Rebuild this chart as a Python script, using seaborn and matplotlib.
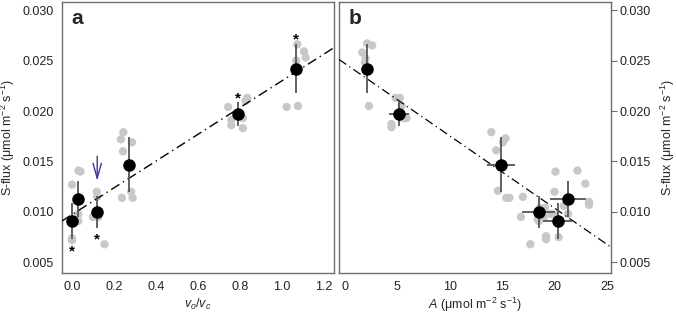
import numpy as np
import pandas as pd
import matplotlib
matplotlib.use("Agg")
import matplotlib.pyplot as plt
import seaborn as sns

# ---------------- data ----------------
# panel a raw points (vo/vc, S-flux)
a_raw_x = [0.0, 0.0, 0.0, 0.03, 0.04, 0.03, 0.03,
           0.10, 0.118, 0.12, 0.125, 0.12, 0.155,
           0.245, 0.233, 0.286, 0.243, 0.238, 0.289, 0.282,
           0.745, 0.76, 0.76, 0.815, 0.815, 0.836, 0.828,
           1.075, 1.107, 1.115, 1.07, 1.024, 1.078]
a_raw_y = [0.0127, 0.0074, 0.0072, 0.0141, 0.0140, 0.0098, 0.0091,
           0.0095, 0.0120, 0.0115, 0.0095, 0.0096, 0.0068,
           0.0179, 0.0172, 0.0169, 0.0160, 0.0114, 0.0114, 0.0120,
           0.0204, 0.0191, 0.0186, 0.0193, 0.0183, 0.0213, 0.0210,
           0.0266, 0.0259, 0.0253, 0.0250, 0.0204, 0.0205]
# treatment means (same order in both panels)
mean_vovc = [0.0, 0.03, 0.12, 0.27, 0.79, 1.07]
mean_flux = [0.0091, 0.0113, 0.0100, 0.0147, 0.0197, 0.0242]
flux_err = [0.0018, 0.0018, 0.0016, 0.0027, 0.0012, 0.0024]
mean_A = [20.3, 21.3, 18.5, 14.9, 5.15, 2.1]
A_err = [1.4, 1.7, 1.6, 1.3, 0.95, 0.0]

# panel b raw points (A, S-flux)
b_raw_x = [2.12, 2.6, 1.65, 1.97, 1.9, 2.29,
           4.83, 5.24, 4.44, 4.44, 5.56, 5.87, 5.4,
           13.97, 15.33, 15.08, 14.44, 14.6, 15.4, 15.7, 16.98,
           16.8, 17.7, 19.2, 19.2, 20.4, 18.5, 19.0, 20.0, 21.3, 20.9,
           18.6, 19.1, 20.1, 22.2, 22.95, 20.0, 23.3, 23.3, 19.7, 18.4]
b_raw_y = [0.0267, 0.0265, 0.0258, 0.0252, 0.0248, 0.0205,
           0.0213, 0.0213, 0.0187, 0.0184, 0.0193, 0.0193, 0.0205,
           0.0179, 0.0173, 0.0169, 0.0161, 0.0121, 0.0114, 0.0114, 0.0115,
           0.0095, 0.0068, 0.0076, 0.0073, 0.0075, 0.0091, 0.0095, 0.0097, 0.0098, 0.0106,
           0.0104, 0.0104, 0.0140, 0.0141, 0.0128, 0.0120, 0.0110, 0.0107, 0.0098, 0.0093]

# fitted lines (intercept, slope)
fit_a = (0.00974, 0.01323)
fit_b = (0.0247, -0.000716)

# asterisks (x, y) in panel a
star_x = [0.0, 0.12, 0.79, 1.07]
star_y = [0.0061, 0.0073, 0.0212, 0.0271]

xticks_a = [0.0, 0.2, 0.4, 0.6, 0.8, 1.0, 1.2]
xticks_b = [0, 5, 10, 15, 20, 25]
yticks = [0.005, 0.010, 0.015, 0.020, 0.025, 0.030]

# ---------------- plot ----------------
sns.set_theme(style="white")
plt.rcParams['font.family'] = ['Liberation Sans', 'DejaVu Sans']
plt.rcParams['mathtext.fontset'] = 'custom'
plt.rcParams['mathtext.rm'] = 'Liberation Sans'
plt.rcParams['mathtext.it'] = 'Liberation Sans:italic'

fig = plt.figure(figsize=(6.77, 3.17), dpi=100)
axa = fig.add_axes([62/677, 1-272.5/317, (334-62)/677, 270.5/317])
axb = fig.add_axes([339/677, 1-272.5/317, (611-339)/677, 270.5/317])

frame_col = "#6e6e6e"
gray = "#c8c8c8"
errcol = "#555555"
ylab = "S-flux (μmol m$^{-2}$ s$^{-1}$)"

for ax in (axa, axb):
    for s in ax.spines.values():
        s.set_color(frame_col)
        s.set_linewidth(1.0)
    ax.set_ylim(0.0040, 0.0308)
    ax.set_yticks(yticks)
    ax.tick_params(axis="both", which="both", direction="out", length=4,
                   width=0.8, color=frame_col, labelsize=9, pad=2,
                   labelcolor="#222222")

# panel a
da = pd.DataFrame({"x": a_raw_x, "y": a_raw_y})
sns.scatterplot(data=da, x="x", y="y", ax=axa, color=gray, s=36,
                edgecolor="none", zorder=2, legend=False)
xa = np.array([-0.048, 1.25])
la = pd.DataFrame({"x": xa, "y": fit_a[0] + fit_a[1] * xa})
sns.lineplot(data=la, x="x", y="y", ax=axa, color="black", lw=1.0,
             linestyle=(0, (7, 3, 1, 3)), zorder=3)
axa.errorbar(mean_vovc, mean_flux, yerr=flux_err, fmt="none",
             ecolor=errcol, elinewidth=1.3, capsize=0, zorder=4)
axa.plot(mean_vovc, mean_flux, "o", color="black", ms=8, zorder=5)
for sx, sy in zip(star_x, star_y):
    axa.text(sx, sy, "*", ha="center", va="center", fontsize=11,
             color="black", fontweight="bold")
axa.annotate("", xy=(0.12, 0.0128), xytext=(0.12, 0.0158),
             arrowprops=dict(arrowstyle="->,head_length=0.9,head_width=0.25",
                             color="#3b3b8f", lw=1.0))
axa.set_xlim(-0.048, 1.25)
axa.set_xticks(xticks_a)
axa.set_xticklabels([f"{t:.1f}" for t in xticks_a])
axa.set_yticklabels([f"{t:.3f}" for t in yticks])
axa.set_xlabel("$v_o/v_c$", fontsize=9, labelpad=3)
axa.set_ylabel(ylab, fontsize=9, labelpad=4)
axa.text(0.035, 0.975, "a", transform=axa.transAxes, fontsize=15,
         fontweight="bold", va="top", ha="left")

# panel b
db = pd.DataFrame({"x": b_raw_x, "y": b_raw_y})
sns.scatterplot(data=db, x="x", y="y", ax=axb, color=gray, s=36,
                edgecolor="none", zorder=2, legend=False)
xb = np.array([-0.57, 25.4])
lb = pd.DataFrame({"x": xb, "y": fit_b[0] + fit_b[1] * xb})
sns.lineplot(data=lb, x="x", y="y", ax=axb, color="black", lw=0.9,
             linestyle=(0, (7, 3, 1, 3)), zorder=3)
axb.errorbar(mean_A, mean_flux, yerr=flux_err, xerr=A_err, fmt="none",
             ecolor=errcol, elinewidth=1.3, capsize=0, zorder=4)
axb.plot(mean_A, mean_flux, "o", color="black", ms=8, zorder=5)
axb.set_xlim(-0.57, 25.4)
axb.set_xticks(xticks_b)
axb.yaxis.tick_right()
axb.yaxis.set_label_position("right")
axb.set_yticklabels([f"{t:.3f}" for t in yticks])
axb.set_xlabel("$A$ (μmol m$^{-2}$ s$^{-1}$)", fontsize=9, labelpad=2)
axb.set_ylabel(ylab, fontsize=9, labelpad=6, rotation=90)
axb.text(0.035, 0.975, "b", transform=axb.transAxes, fontsize=15,
         fontweight="bold", va="top", ha="left")

fig.savefig("out.png", dpi=100)
